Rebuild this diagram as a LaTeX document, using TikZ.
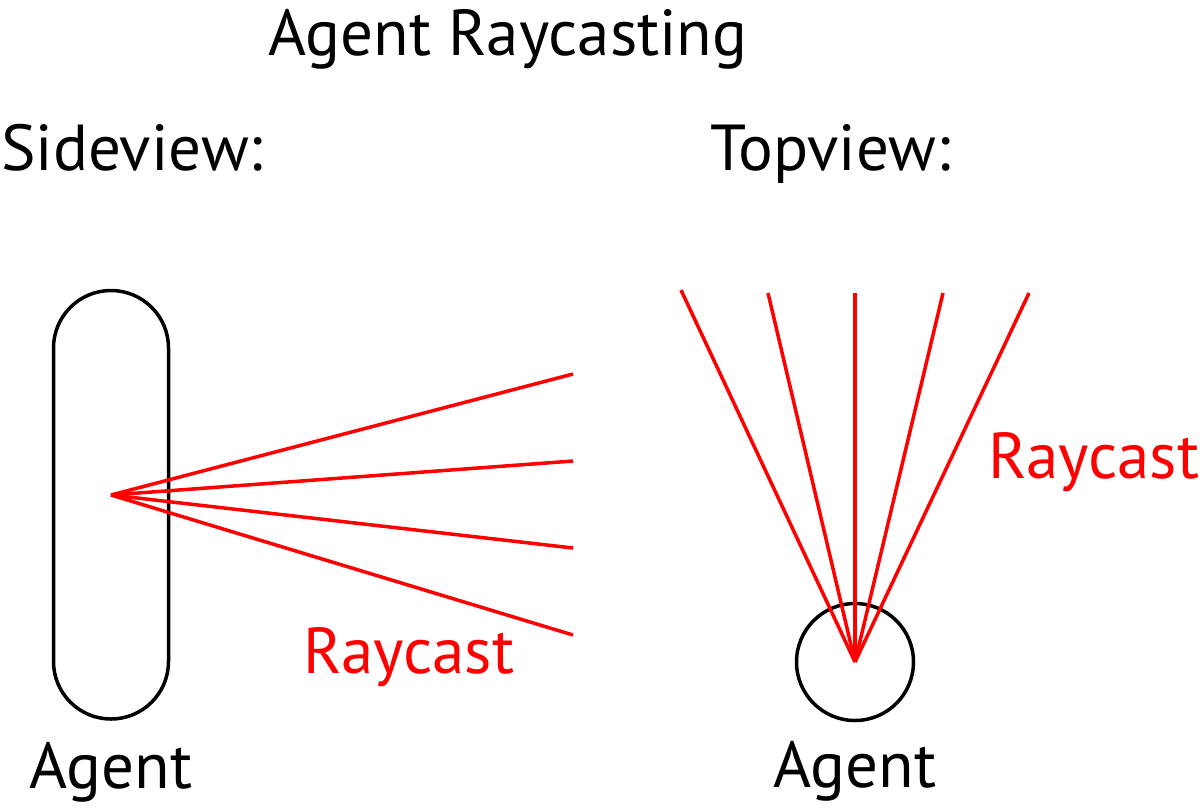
\documentclass[tikz,border=0pt]{standalone}
\usepackage{fontspec}
\setmainfont{PT Sans}
\usepackage{tikz}
\usetikzlibrary{calc}
\usetikzlibrary{positioning}
\usepackage{color}
\definecolor{rayred}{RGB}{255, 0, 0}
\definecolor{outline}{RGB}{0, 0, 0}
\tikzset{
    bodyline/.style = {draw=outline, line width=1.75pt},
    rayline/.style  = {draw=rayred, line width=1.75pt},
    caption/.style  = {font=\fontsize{32.5}{36}\selectfont, inner sep=0pt, anchor=base},
    raytext/.style  = {caption, text=rayred, anchor=base west}
}
\begin{document}
\begin{tikzpicture}[x=0.5pt, y=-0.5pt]
            \useasboundingbox (0, 0) rectangle (1200, 811);
            \node[caption]                      (title)    at ( 508,  55) {Agent Raycasting};
            \node[caption, anchor=base west]    (sidehead) at (   1, 170) {Sideview:};
            \node[caption, anchor=base west]    (tophead)  at ( 710, 170) {Topview:};
            % side view
            \draw[bodyline, rounded corners=28.75pt] (53.5, 290.5) rectangle (168.5, 719);
            \coordinate                         (sideeye)  at ( 111, 495);
            \coordinate                         (sideray1) at ( 573, 374);
            \coordinate                         (sideray2) at ( 573, 461);
            \coordinate                         (sideray3) at ( 573, 548);
            \coordinate                         (sideray4) at ( 573, 635);
            \draw[rayline] (sideeye) -- (sideray1);
            \draw[rayline] (sideeye) -- (sideray2);
            \draw[rayline] (sideeye) -- (sideray3);
            \draw[rayline] (sideeye) -- (sideray4);
            \node[raytext]                      (sidecast) at ( 303, 673) {Raycast};
            \node[caption]                      (sidename) at ( 111, 788) {Agent};
            % top view
            \node[bodyline, circle, minimum size=58.5pt, inner sep=0pt] (topbody) at (855, 662) {};
            \coordinate                         (topeye)   at (topbody.center);
            \coordinate                         (topray1)  at ( 681, 290);
            \coordinate                         (topray2)  at ( 768, 293);
            \coordinate                         (topray3)  at ( 855, 293);
            \coordinate                         (topray4)  at ( 943, 293);
            \coordinate                         (topray5)  at (1029, 293);
            \draw[rayline] (topeye) -- (topray1);
            \draw[rayline] (topeye) -- (topray2);
            \draw[rayline] (topeye) -- (topray3);
            \draw[rayline] (topeye) -- (topray4);
            \draw[rayline] (topeye) -- (topray5);
            \node[raytext]                      (topcast)  at ( 988, 478) {Raycast};
            \node[caption]                      (topname)  at ( 855, 787) {Agent};
\end{tikzpicture}
\end{document}
